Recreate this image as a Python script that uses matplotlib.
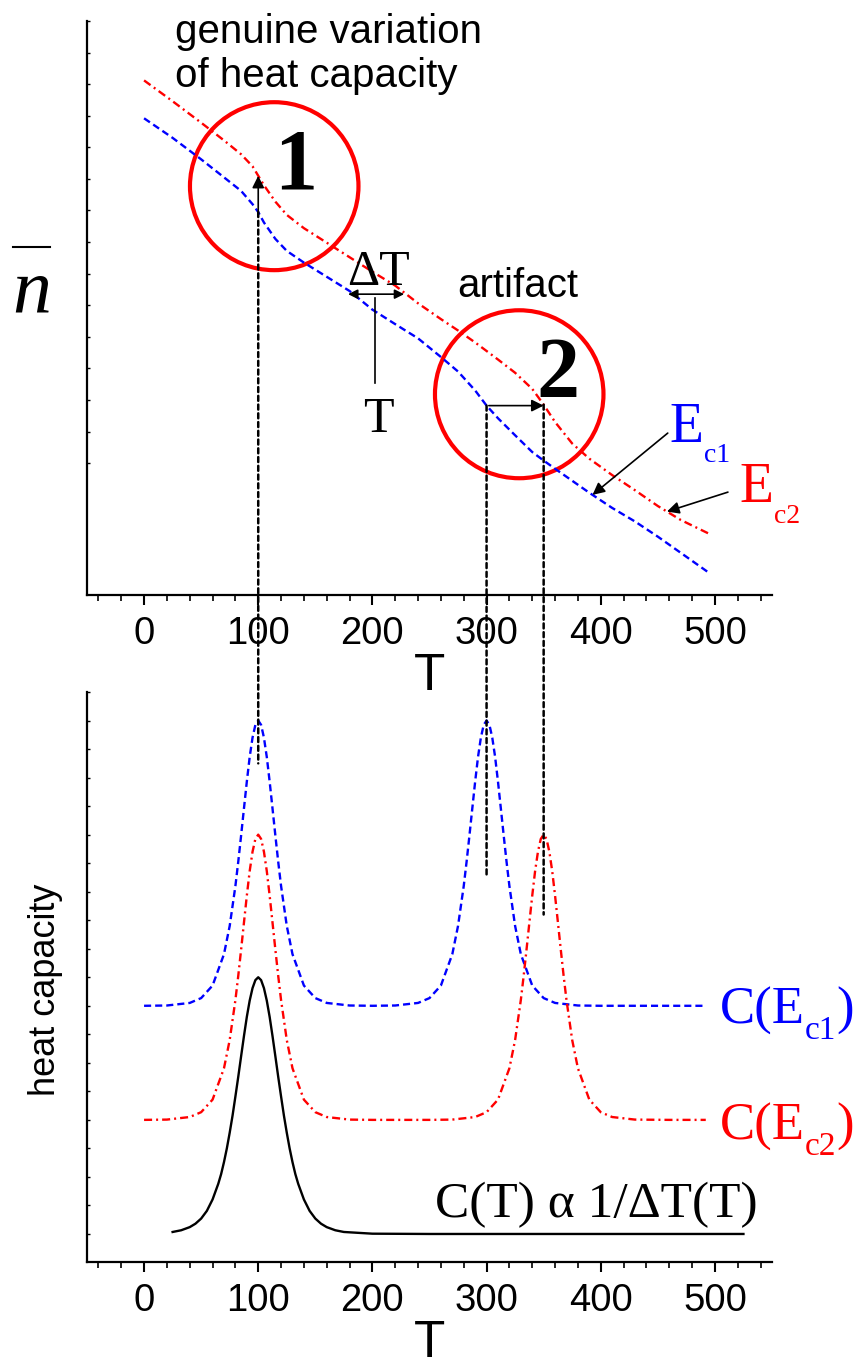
import numpy as np
import matplotlib.pyplot as plt
from matplotlib.patches import Ellipse, ConnectionPatch
from matplotlib.lines import Line2D
from matplotlib.ticker import MultipleLocator

# ---- top panel: n-bar vs T for the two curves
T_top = [0, 25, 50, 70, 85, 95, 100, 105, 115, 125, 140, 160, 180, 200, 220, 240,
         260, 275, 290, 300, 310, 325, 340, 350, 360, 375, 390, 410, 430, 450, 470, 495]
nbar_Ec1 = [10.92, 10.30, 9.62, 9.05, 8.62, 8.20, 7.95, 7.62, 7.10, 6.72, 6.35, 5.90,
            5.45, 4.86, 4.40, 3.95, 3.36, 2.90, 2.30, 1.82, 1.42, 0.88, 0.35, 0.08,
            -0.18, -0.56, -0.94, -1.42, -1.85, -2.33, -2.84, -3.48]
nbar_Ec2 = [12.12, 11.46, 10.78, 10.22, 9.78, 9.40, 9.10, 8.80, 8.28, 7.86, 7.44, 6.98,
            6.52, 6.06, 5.62, 5.06, 4.56, 4.20, 3.82, 3.55, 3.28, 2.86, 2.35, 1.85,
            1.30, 0.62, 0.14, -0.38, -0.86, -1.36, -1.80, -2.24]

# ---- bottom panel: heat capacity curves
T_Ec1 = [0, 20, 40, 50, 60, 70, 75, 80, 82.5, 85, 87.5, 90, 92.5, 95, 97.5, 100,
         102.5, 105, 107.5, 110, 112.5, 115, 117.5, 120, 125, 130, 140, 150, 160, 180,
         200, 220, 240, 250, 260, 270, 275, 280, 282.5, 285, 287.5, 290, 292.5, 295,
         297.5, 300, 302.5, 305, 307.5, 310, 312.5, 315, 317.5, 320, 325, 330, 340, 350,
         360, 380, 400, 440, 492]
C_Ec1 = [9.00, 9.01, 9.10, 9.27, 9.71, 10.81, 11.80, 13.20, 14.05, 14.97, 15.92, 16.86,
         17.72, 18.40, 18.85, 19.00, 18.85, 18.40, 17.72, 16.86, 15.92, 14.97, 14.05,
         13.20, 11.80, 10.81, 9.71, 9.27, 9.10, 9.01, 9.00, 9.01, 9.10, 9.27, 9.71, 10.81,
         11.80, 13.20, 14.05, 14.97, 15.92, 16.86, 17.72, 18.40, 18.85, 19.00, 18.85,
         18.40, 17.72, 16.86, 15.92, 14.97, 14.05, 13.20, 11.80, 10.81, 9.71, 9.27, 9.10,
         9.01, 9.00, 9.00, 9.00]
T_Ec2 = [0, 20, 40, 50, 60, 70, 75, 80, 82.5, 85, 87.5, 90, 92.5, 95, 97.5, 100,
         102.5, 105, 107.5, 110, 112.5, 115, 117.5, 120, 125, 130, 140, 150, 160, 180,
         200, 250, 270, 290, 300, 310, 320, 325, 330, 332.5, 335, 337.5, 340, 342.5, 345,
         347.5, 350, 352.5, 355, 357.5, 360, 362.5, 365, 367.5, 370, 375, 380, 390, 400,
         410, 430, 460, 492]
C_Ec2 = [5.00, 5.01, 5.10, 5.27, 5.71, 6.81, 7.80, 9.20, 10.05, 10.97, 11.92, 12.86,
         13.72, 14.40, 14.85, 15.00, 14.85, 14.40, 13.72, 12.86, 11.92, 10.97, 10.05,
         9.20, 7.80, 6.81, 5.71, 5.27, 5.10, 5.01, 5.00, 5.00, 5.01, 5.10, 5.27, 5.71,
         6.81, 7.80, 9.20, 10.05, 10.97, 11.92, 12.86, 13.72, 14.40, 14.85, 15.00, 14.85,
         14.40, 13.72, 12.86, 11.92, 10.97, 10.05, 9.20, 7.80, 6.81, 5.71, 5.27, 5.10,
         5.01, 5.00, 5.00]
T_CT = [25, 32.5, 40, 45, 50, 55, 60, 65, 67.5, 70, 72.5, 75, 77.5, 80, 82.5, 85, 87.5,
        90, 92.5, 95, 97.5, 100, 102.5, 105, 107.5, 110, 112.5, 115, 117.5, 120, 122.5,
        125, 127.5, 130, 132.5, 135, 140, 145, 150, 155, 160, 167.5, 175, 200, 250, 525]
C_T = [1.07, 1.13, 1.24, 1.36, 1.54, 1.81, 2.21, 2.76, 3.10, 3.52, 4.00, 4.55, 5.15,
       5.82, 6.51, 7.23, 7.94, 8.61, 9.18, 9.62, 9.90, 10.00, 9.90, 9.62, 9.18, 8.61,
       7.94, 7.23, 6.51, 5.82, 5.15, 4.55, 4.00, 3.52, 3.10, 2.76, 2.21, 1.81, 1.54,
       1.36, 1.24, 1.13, 1.07, 1.01, 1.00, 1.00]

tick_T = [0, 100, 200, 300, 400, 500]

SANS = 'Liberation Sans'
SERIF = 'Liberation Serif'
DESC = 0.217  # descent of "lp" in em, used to chain subscripts
BLUE = '#0000ff'
RED = '#ff0000'
DASH = (3.0, 1.7)
DASHDOT = (3.4, 1.7, 0.85, 1.7)

plt.rcParams['font.family'] = SANS

fig = plt.figure(figsize=(8.57, 13.67), dpi=100)
ax1 = fig.add_axes([0.1015, 0.5647, 0.7993, 0.4199])
ax2 = fig.add_axes([0.1015, 0.07645, 0.7993, 0.4173])


def style_axis(ax, yticks):
    for s in ['top', 'right']:
        ax.spines[s].set_visible(False)
    for s in ['left', 'bottom']:
        ax.spines[s].set_linewidth(1.6)
    ax.set_xlim(-50, 550)
    ax.set_xticks(tick_T)
    ax.xaxis.set_minor_locator(MultipleLocator(20))
    ax.tick_params(axis='x', which='major', direction='out', length=7, width=1.5,
                   labelsize=27.5, pad=8)
    ax.tick_params(axis='x', which='minor', direction='out', length=4, width=1.2)
    ax.set_yticks(yticks)
    ax.tick_params(axis='y', direction='in', length=2.5, width=1, labelleft=False)
    ax.set_xlabel('T', fontsize=37, labelpad=0)


def sub_label(ax, x, y, pieces, color):
    # pieces: (text, size, baseline shift in points)
    text, size, shift = pieces[0]
    prev = ax.text(x, y, text, fontsize=size, color=color, family=SERIF,
                   ha='left', va='baseline')
    psize, pshift = size, shift
    for text, size, shift in pieces[1:]:
        dy = (shift - pshift) - DESC * (size - psize)
        prev = ax.annotate(text, xy=(1, 0), xycoords=prev, xytext=(0, dy),
                           textcoords='offset points', fontsize=size, color=color,
                           family=SERIF, ha='left', va='bottom')
        psize, pshift = size, shift


arrow = dict(arrowstyle='-|>', color='k', lw=1.2, mutation_scale=18,
             shrinkA=0, shrinkB=0)

# ---------------- top panel
style_axis(ax1, range(0, 15))
ax1.set_ylim(-4.18, 14.0)
ax1.plot(T_top, nbar_Ec1, color=BLUE, lw=1.7, dashes=DASH)
ax1.plot(T_top, nbar_Ec2, color=RED, lw=1.7, dashes=DASHDOT)

ax1.add_patch(Ellipse((114, 8.77), 147.6, 5.32, fill=False, ec=RED, lw=3))
ax1.add_patch(Ellipse((328.6, 2.18), 147.6, 5.32, fill=False, ec=RED, lw=3))
ax1.text(133, 8.70, '1', fontsize=62, fontweight='bold', family=SERIF,
         ha='center', va='baseline')
ax1.text(362.5, 2.09, '2', fontsize=62, fontweight='bold', family=SERIF,
         ha='center', va='baseline')

ax1.text(27, 14.27, 'genuine variation\nof heat capacity', fontsize=29,
         ha='left', va='top')
ax1.text(327, 5.25, 'artifact', fontsize=29, ha='center', va='baseline')

# genuine variation: same T, different n
y1b = np.interp(100, T_top, nbar_Ec1)
y1r = np.interp(100, T_top, nbar_Ec2)
ax1.annotate('', xy=(100, y1r), xytext=(100, y1b), arrowprops=arrow)
# artifact: shift along T
y2 = np.interp(300, T_top, nbar_Ec1)
ax1.annotate('', xy=(350, y2), xytext=(302, y2), arrowprops=arrow)

# Delta T marker
ax1.annotate('', xy=(178.7, 5.35), xytext=(227.8, 5.35),
             arrowprops=dict(arrowstyle='<|-|>', color='k', lw=1.2,
                             mutation_scale=14, shrinkA=0, shrinkB=0))
ax1.text(205, 5.63, '\u0394T', fontsize=36, family=SERIF, ha='center', va='baseline')
ax1.plot([202.2, 202.2], [5.22, 2.53], color='k', lw=1.2)
ax1.text(204.9, 0.98, 'T', fontsize=36, family=SERIF, ha='center', va='baseline')

# curve labels
sub_label(ax1, 460.6, 0.66, [('E', 40, 0), ('c1', 20, -14.4)], BLUE)
sub_label(ax1, 521.9, -1.23, [('E', 40, 0), ('c2', 20, -15)], RED)
ax1.annotate('', xy=(392.8, np.interp(392.8, T_top, nbar_Ec1)), xytext=(458.7, 0.95),
             arrowprops=arrow)
ax1.annotate('', xy=(458, np.interp(458, T_top, nbar_Ec2)), xytext=(511.4, -0.92),
             arrowprops=arrow)

# y label n-bar
fig.text(32 / 857, 1 - 312 / 1367, 'n', fontsize=56, family=SERIF, style='italic',
         ha='center', va='baseline')
fig.add_artist(Line2D([13 / 857, 50 / 857], [1 - 247 / 1367] * 2,
                      transform=fig.transFigure, color='k', lw=1.5))

# ---------------- bottom panel
style_axis(ax2, range(1, 21))
ax2.set_ylim(0, 20)
ax2.plot(T_Ec1, C_Ec1, color=BLUE, lw=1.7, dashes=DASH)
ax2.plot(T_Ec2, C_Ec2, color=RED, lw=1.7, dashes=DASHDOT)
ax2.plot(T_CT, C_T, color='k', lw=1.7)
ax2.set_ylabel('heat capacity', fontsize=26)
ax2.yaxis.set_label_coords(-0.035, 0.478)

sub_label(ax2, 504, 8.37, [('C(E', 38, 0), ('c1', 24, -11), (')', 38, 0)], BLUE)
sub_label(ax2, 504, 4.30, [('C(E', 38, 0), ('c2', 24, -11), (')', 38, 0)], RED)
ax2.text(537.7, 1.6, 'C(T) \u03b1 1/\u0394T(T)', fontsize=37, family=SERIF,
         ha='right', va='baseline')

# dashed guides from the top curves down to the peaks
for t, curve, ybot in [(100, nbar_Ec1, 17.5), (300, nbar_Ec1, 13.5), (350, nbar_Ec2, 12.2)]:
    con = ConnectionPatch(xyA=(t, np.interp(t, T_top, curve)), coordsA=ax1.transData,
                          xyB=(t, ybot), coordsB=ax2.transData,
                          color='k', lw=1.8, linestyle=(0, (2.0, 1.5)))
    fig.add_artist(con)

fig.savefig('out.png', dpi=100)
